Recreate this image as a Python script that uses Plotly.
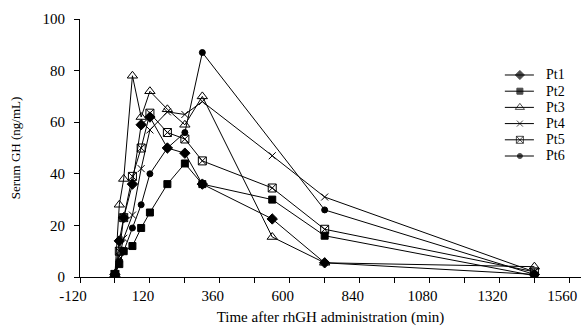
import plotly.graph_objects as go

time_min = [0, 15, 30, 60, 90, 120, 180, 240, 300, 540, 720, 1440]
pt1 = [1, 14, 23, 36, 59, 62, 50, 48, 36, 22.5, 5.5, 1]
pt2 = [1, 5, 10, 12, 19, 25, 36, 44, 36, 30, 16, 0.5]
pt3 = [1, 28, 38, 78, 62, 72, 65, 59, 70, 15.5, 5.5, 4]
pt4 = [1, 8, 15, 24, 42, 57, 64, 63, 68, 47, 31, 2]
pt5 = [1, 10, 23, 39, 50, 63.5, 56, 53.5, 45, 34.5, 18.5, 2]
pt6 = [1, 6, 10, 19, 28, 40, 50, 56, 87, None, 26, 1]

series_names = ["Pt1", "Pt2", "Pt3", "Pt4", "Pt5", "Pt6"]
series_vals = [pt1, pt2, pt3, pt4, pt5, pt6]
symbols = ["diamond", "square", "triangle-up-open", "x-thin-open", "square-x-open", "circle"]
sizes = [8, 7, 9, 7, 8, 6]

x_tickvals = list(range(-120, 1561, 120))
x_ticktext = [str(v) if (v + 120) % 240 == 0 else "" for v in x_tickvals]
y_tickvals = [0, 20, 40, 60, 80, 100]

font_family = "Liberation Serif, Times New Roman, serif"

fig = go.Figure()
for name, vals, sym, sz in zip(series_names, series_vals, symbols, sizes):
    xs = [t for t, v in zip(time_min, vals) if v is not None]
    ys = [v for v in vals if v is not None]
    fig.add_trace(go.Scatter(
        x=xs, y=ys, name=name, mode="lines+markers", showlegend=False,
        line=dict(color="black", width=1),
        marker=dict(symbol=sym, size=sz, color="black",
                    line=dict(color="black", width=1)),
    ))

# Compact legend (layout positions in paper fractions), drawn on an overlay axis
leg_x0, leg_xm, leg_x1, leg_tx = 0.848, 0.878, 0.906, 0.928
leg_y0, leg_dy = 0.783, 0.0628
for i, (name, sym, sz) in enumerate(zip(series_names, symbols, sizes)):
    yy = leg_y0 - i * leg_dy
    fig.add_trace(go.Scatter(
        x=[leg_x0, leg_xm, leg_x1], y=[yy, yy, yy], xaxis="x2", yaxis="y2",
        mode="lines+markers", showlegend=False, hoverinfo="skip",
        line=dict(color="black", width=1),
        marker=dict(symbol=sym, size=[0, max(sz - 1, 5), 0], color="black",
                    line=dict(color="black", width=1)),
    ))
    fig.add_annotation(x=leg_tx, y=yy, xref="paper", yref="paper",
                       text=name, showarrow=False, xanchor="left", yanchor="middle",
                       borderpad=0,
                       font=dict(size=14, family=font_family, color="black"))

fig.update_layout(
    width=582, height=333,
    margin=dict(l=80, r=1, t=19, b=56),
    paper_bgcolor="white", plot_bgcolor="white",
    font=dict(family=font_family, size=15, color="black"),
    showlegend=False,
    xaxis=dict(range=[-120, 1600], tickvals=x_tickvals, ticktext=x_ticktext,
               ticks="outside", ticklen=5, tickcolor="black",
               showline=True, linecolor="black", linewidth=1,
               showgrid=False, zeroline=False, ticklabelshift=-7,
               ticklabeloverflow="allow",
               title=dict(text="Time after rhGH administration (min)", standoff=8,
                          font=dict(size=15)),
               tickfont=dict(size=15)),
    yaxis=dict(range=[0, 100], tickvals=y_tickvals,
               ticks="outside", ticklen=5, tickcolor="black",
               showline=True, linecolor="black", linewidth=1,
               showgrid=False, zeroline=False, ticklabelstandoff=6,
               title=dict(text="Serum GH (ng/mL)", standoff=18, font=dict(size=13)),
               tickfont=dict(size=15)),
    xaxis2=dict(overlaying="x", range=[0, 1], visible=False, fixedrange=True),
    yaxis2=dict(overlaying="y", range=[0, 1], visible=False, fixedrange=True),
)

fig.write_html("out.html",
               config={"displayModeBar": False, "staticPlot": True},
               post_script="document.body.style.margin='0';document.body.style.overflow='hidden';")
